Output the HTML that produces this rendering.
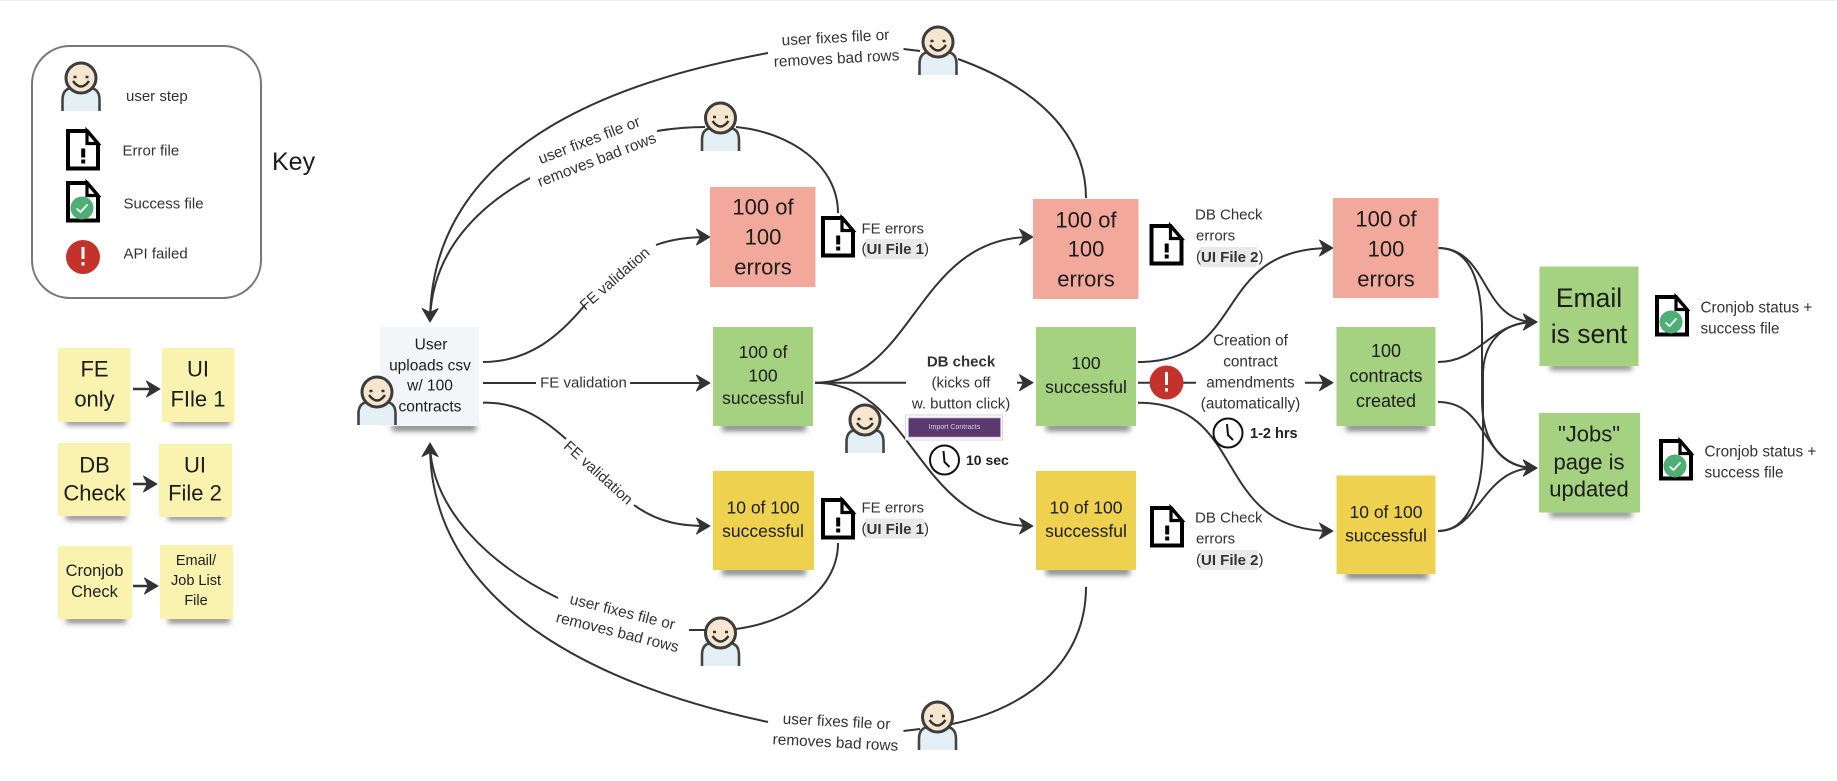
<!DOCTYPE html>
<html>
<head>
<meta charset="utf-8">
<style>
html,body{margin:0;padding:0;background:#fff;width:1837px;height:781px;overflow:hidden}
svg{display:block;filter:blur(.3px)}
text{font-family:"Liberation Sans",sans-serif;fill:#333;font-size:15px;dominant-baseline:central;text-anchor:middle}
.l{text-anchor:start}
.d{fill:#1c1c1c}
.b{font-weight:bold}
.ln{fill:none;stroke:#333;stroke-width:2}
.ar{marker-end:url(#ah)}
.r text{font-size:15.4px}
</style>
</head>
<body>
<svg width="1837" height="781" viewBox="0 0 1837 781" xmlns="http://www.w3.org/2000/svg">
<defs>
<filter id="bl" x="-20%" y="-100%" width="140%" height="300%"><feGaussianBlur stdDeviation="3"/></filter>
<marker id="ah" markerUnits="userSpaceOnUse" markerWidth="18" markerHeight="20" refX="13" refY="10" orient="auto">
<path d="M15,10 L1.500,2 L5.500,10 L1.500,18 Z" fill="#333" stroke="#333" stroke-width="1" stroke-linejoin="round"/>
</marker>
<symbol id="person" overflow="visible" viewBox="-20 -17 40 51" width="40" height="51">
<path d="M-18.5,33 V22 Q-18.5,10 -8,10 H8 Q18.5,10 18.5,22 V33" fill="#e4f0f6" stroke="#444" stroke-width="2.6"/>
<circle cx="0" cy="0" r="15" fill="#f7e6cf" stroke="#3c3c3c" stroke-width="3"/>
<path d="M-8,3 Q0,14 8,3" fill="none" stroke="#333" stroke-width="2.4"/>
<path d="M-7.5,-1 h3 M4.5,-1 h3" stroke="#333" stroke-width="2.4"/>
</symbol>
<symbol id="doc" overflow="visible" viewBox="0 0 34 42" width="34" height="42">
<path d="M2,2 H21 L32,15 V39.500 H2 Z" fill="#fff" stroke="#000" stroke-width="4"/>
<path d="M21,2 V14.500 H32 Z" fill="#fff" stroke="#000" stroke-width="3.200"/>
<rect x="15.200" y="19.500" width="4" height="9" fill="#000"/>
<rect x="15.200" y="30.500" width="4" height="4" fill="#000"/>
</symbol>
<symbol id="sdoc" overflow="visible" viewBox="0 0 34 42" width="34" height="42">
<path d="M2,2 H21 L32,15 V39.500 H2 Z" fill="#fff" stroke="#000" stroke-width="4"/>
<path d="M21,2 V14.500 H32 Z" fill="#fff" stroke="#000" stroke-width="3.200"/>
<circle cx="16" cy="27" r="11.500" fill="#4fae76"/>
<path d="M10.500,27.500 L14.500,31 L21.500,23.500" fill="none" stroke="#fff" stroke-width="1.800"/>
</symbol>
<symbol id="clock" overflow="visible" viewBox="-16 -16 32 32" width="32" height="32">
<circle cx="0" cy="0" r="14.500" fill="#fff" stroke="#111" stroke-width="2"/>
<path d="M-1,-9 L0,2 L5,7" fill="none" stroke="#111" stroke-width="2"/>
</symbol>
</defs>

<rect x="0" y="0" width="1837" height="1" fill="#eee"/>

<!-- shadows -->
<g fill="#333" opacity=".62" filter="url(#bl)">
<rect x="66" y="419" width="60" height="6"/><rect x="172" y="419" width="58" height="6"/>
<rect x="66" y="514" width="60" height="6"/><rect x="168" y="514" width="58" height="6"/>
<rect x="66" y="617" width="60" height="6"/><rect x="168" y="617" width="62" height="6"/>
<rect x="392" y="424" width="84" height="7"/>
<rect x="722" y="424" width="84" height="7"/><rect x="722" y="568" width="84" height="7"/>
<rect x="1046" y="424" width="84" height="7"/><rect x="1046" y="568" width="84" height="7"/>
<rect x="1346" y="424" width="82" height="7"/><rect x="1346" y="572" width="82" height="7"/>
<rect x="1550" y="364" width="82" height="6"/><rect x="1550" y="511" width="82" height="6"/>
</g>

<!-- key -->
<rect x="32" y="46" width="229" height="252" rx="38" ry="38" fill="#fff" stroke="#777" stroke-width="2"/>
<use href="#person" x="61" y="61"/>
<text class="l" x="126" y="96.500">user step</text>
<use href="#doc" x="66" y="129"/>
<text class="l" x="122.500" y="151">Error file</text>
<use href="#sdoc" x="66" y="181"/>
<text class="l" x="123.500" y="204">Success file</text>
<circle cx="83" cy="257" r="17" fill="#c4332b"/>
<rect x="81.500" y="247" width="3" height="12" fill="#fff"/><rect x="81.500" y="262" width="3" height="3.500" fill="#fff"/>
<text class="l" x="123.500" y="254">API failed</text>
<text class="l d" x="272" y="162" style="font-size:25px">Key</text>

<!-- key stickies -->
<g fill="#faf3b0">
<rect x="58" y="348" width="72.500" height="74"/><rect x="162" y="348" width="72.500" height="74"/>
<rect x="58" y="443" width="72.500" height="73"/><rect x="159" y="444" width="73" height="73"/>
<rect x="58" y="546" width="74" height="73"/><rect x="160" y="545" width="73" height="74"/>
</g>
<text class="d" style="font-size:22px" x="94.500" y="369">FE</text>
<text class="d" style="font-size:22px" x="94.500" y="399">only</text>
<text class="d" style="font-size:22px" x="198" y="369">UI</text>
<text class="d" style="font-size:22px" x="198" y="399">FIle 1</text>
<text class="d" style="font-size:22px" x="94.500" y="465">DB</text>
<text class="d" style="font-size:22px" x="94.500" y="493">Check</text>
<text class="d" style="font-size:22px" x="195" y="465">UI</text>
<text class="d" style="font-size:22px" x="195" y="493">File 2</text>
<text class="d" style="font-size:16.500px" x="94.500" y="571">Cronjob</text>
<text class="d" style="font-size:16.500px" x="94.500" y="592">Check</text>
<text class="d" style="font-size:14.500px" x="196" y="561">Email/</text>
<text class="d" style="font-size:14.500px" x="196" y="581">Job List</text>
<text class="d" style="font-size:14.500px" x="196" y="601">File</text>
<g class="ln" style="stroke-width:2.600">
<path class="ar" d="M133,389 H158"/>
<path class="ar" d="M133,484 H155"/>
<path class="ar" d="M133,586 H156"/>
</g>

<!-- main connectors -->
<g class="ln">
<path class="ar" d="M768,53 C 650,75 432,130 430,320"/>
<path d="M530,178 C 480,205 432,250 430,320"/>
<path d="M903.500,49 L920,51"/>
<path d="M958,59 C 1030,85 1086,130 1086,198"/>
<path d="M657,131 C 675,128 690,127 705,127"/>
<path d="M736,127 C 790,132 838,165 838,213"/>

<path class="ar" d="M768,722 C 640,695 430,625 430,445"/>
<path d="M558,598 C 490,565 432,510 430,445"/>
<path d="M689,630 H705"/>
<path d="M736,629 C 790,622 838,590 838,543"/>
<path d="M903.500,731 L920,729"/>
<path d="M952,724 C 1030,708 1086,660 1086,587"/>

<path d="M483,362 C 530,362 560,335 585,305"/>
<path class="ar" d="M656,245 C 672,239 690,237 708,237"/>
<path d="M483,383 H536"/>
<path class="ar" d="M630,383 H708"/>
<path d="M483,402.700 C 520,402 545,420 566,439"/>
<path class="ar" d="M634,505 C 660,524 685,526 708,526"/>

<path class="ar" d="M815,382.700 C 915,382.700 915,237 1031,237"/>
<path d="M815,382.700 H906"/>
<path class="ar" d="M1017,382.700 H1031"/>
<path class="ar" d="M815,382.700 C 915,382.700 915,526 1031,526"/>

<path class="ar" d="M1138,362 C 1250,362 1210,248 1331,248"/>
<path class="ar" d="M1138,402.700 C 1250,402.700 1210,531 1331,531"/>
<path d="M1138,382.700 H1196"/>
<path class="ar" d="M1305,382.700 H1331"/>

<path class="ar" d="M1438,248 C 1490,248 1480,322 1535,322"/>
<path class="ar" d="M1438,248 C 1470,248 1482,280 1482,330 V 400 C 1482,440 1500,468 1535,468"/>
<path class="ar" d="M1438,362 C 1480,362 1490,322 1535,322"/>
<path class="ar" d="M1438,402 C 1490,402 1480,468 1535,468"/>
<path class="ar" d="M1438,531 C 1480,531 1482,468 1535,468"/>
<path class="ar" d="M1438,531 C 1470,531 1483,490 1483,440 V 375 C 1483,345 1500,322 1535,322"/>
</g>

<!-- user box -->
<rect x="380" y="327" width="99" height="99" fill="#f3f5f8"/>
<text class="d" x="431" y="345" style="font-size:15.500px">User</text>
<text class="d" x="430" y="366" style="font-size:15.500px">uploads csv</text>
<text class="d" x="430" y="386" style="font-size:15.500px">w/ 100</text>
<text class="d" x="430" y="407" style="font-size:15.500px">contracts</text>
<use href="#person" x="357" y="375"/>

<!-- stickies column 1 -->
<rect x="710" y="187" width="105.500" height="100" fill="#f2a99c"/>
<rect x="713" y="327" width="100" height="99" fill="#a4d280"/>
<rect x="713" y="471" width="101" height="99" fill="#eed24f"/>
<text class="d" x="763" y="207" style="font-size:22px">100 of</text>
<text class="d" x="763" y="237" style="font-size:22px">100</text>
<text class="d" x="763" y="267" style="font-size:22px">errors</text>
<text class="d" x="763" y="352" style="font-size:17.500px">100 of</text>
<text class="d" x="763" y="375.500" style="font-size:17.500px">100</text>
<text class="d" x="763" y="398" style="font-size:17.500px">successful</text>
<text class="d" x="763" y="507.500" style="font-size:17.500px">10 of 100</text>
<text class="d" x="763" y="531" style="font-size:17.500px">successful</text>

<!-- stickies column 2 -->
<rect x="1033" y="199" width="105.500" height="100" fill="#f2a99c"/>
<rect x="1036" y="327" width="100" height="99" fill="#a4d280"/>
<rect x="1036" y="471" width="100" height="99" fill="#eed24f"/>
<text class="d" x="1086" y="220" style="font-size:22px">100 of</text>
<text class="d" x="1086" y="249" style="font-size:22px">100</text>
<text class="d" x="1086" y="279" style="font-size:22px">errors</text>
<text class="d" x="1086" y="363" style="font-size:17.500px">100</text>
<text class="d" x="1086" y="387" style="font-size:17.500px">successful</text>
<text class="d" x="1086" y="507.500" style="font-size:17.500px">10 of 100</text>
<text class="d" x="1086" y="531" style="font-size:17.500px">successful</text>

<!-- stickies column 3 -->
<rect x="1333" y="198" width="105.500" height="100" fill="#f2a99c"/>
<rect x="1336.500" y="327" width="99" height="99" fill="#a4d280"/>
<rect x="1336.500" y="475.500" width="99" height="98.500" fill="#eed24f"/>
<text class="d" x="1386" y="219" style="font-size:22px">100 of</text>
<text class="d" x="1386" y="249" style="font-size:22px">100</text>
<text class="d" x="1386" y="279" style="font-size:22px">errors</text>
<text class="d" x="1386" y="351" style="font-size:18px">100</text>
<text class="d" x="1386" y="376" style="font-size:18px">contracts</text>
<text class="d" x="1386" y="401" style="font-size:18px">created</text>
<text class="d" x="1386" y="512" style="font-size:17.500px">10 of 100</text>
<text class="d" x="1386" y="535.500" style="font-size:17.500px">successful</text>

<!-- results -->
<rect x="1539.500" y="266.500" width="99" height="99.500" fill="#a4d280"/>
<rect x="1539" y="413" width="101" height="99.500" fill="#a4d280"/>
<text class="d" x="1589" y="298" style="font-size:26.500px">Email</text>
<text class="d" x="1589" y="334" style="font-size:26.500px">is sent</text>
<text class="d" x="1589" y="434" style="font-size:22px">"Jobs"</text>
<text class="d" x="1589" y="462" style="font-size:22px">page is</text>
<text class="d" x="1589" y="489" style="font-size:22px">updated</text>
<use href="#sdoc" x="1655" y="295"/>
<text class="l" x="1700.500" y="308" style="font-size:15.300px">Cronjob status +</text>
<text class="l" x="1700.500" y="329" style="font-size:15.300px">success file</text>
<use href="#sdoc" x="1659" y="439"/>
<text class="l" x="1704.500" y="452" style="font-size:15.300px">Cronjob status +</text>
<text class="l" x="1704.500" y="473" style="font-size:15.300px">success file</text>

<!-- file annotations -->
<use href="#doc" x="821" y="216"/>
<text class="l" x="861.500" y="229">FE errors</text>
<rect x="865" y="239" width="59" height="20" fill="#e9e9e9"/>
<text class="l" x="861.500" y="249">(<tspan class="b">UI File 1</tspan>)</text>
<use href="#doc" x="821" y="498"/>
<text class="l" x="861.500" y="508">FE errors</text>
<rect x="865" y="518.500" width="59" height="20" fill="#e9e9e9"/>
<text class="l" x="861.500" y="529">(<tspan class="b">UI File 1</tspan>)</text>

<use href="#doc" x="1149.500" y="224"/>
<text class="l" x="1195" y="215">DB Check</text>
<text class="l" x="1196" y="236">errors</text>
<rect x="1200" y="247" width="57" height="20" fill="#e9e9e9"/>
<text class="l" x="1196" y="257">(<tspan class="b">UI File 2</tspan>)</text>
<use href="#doc" x="1150" y="506"/>
<text class="l" x="1195" y="518">DB Check</text>
<text class="l" x="1196" y="539">errors</text>
<rect x="1200" y="550" width="57" height="20" fill="#e9e9e9"/>
<text class="l" x="1196" y="560">(<tspan class="b">UI File 2</tspan>)</text>

<!-- DB check label -->
<text class="b" x="961" y="362" style="font-size:15px">DB check</text>
<text x="961" y="383">(kicks off</text>
<text x="961" y="404">w. button click)</text>
<rect x="905.500" y="415" width="97" height="25" fill="#fff" stroke="#d9d4de" stroke-width="1"/>
<rect x="908.500" y="418" width="92" height="19" fill="#5a3a6e" stroke="#b79cd0" stroke-width=".8"/>
<text x="954.500" y="427.500" style="fill:#d9cfe2;font-size:7px">Import Contracts</text>
<use href="#clock" x="928.500" y="444"/>
<text class="l b" x="966" y="460" style="font-size:14px;fill:#222">10 sec</text>

<!-- creation label -->
<text x="1250.500" y="341" style="font-size:15.300px">Creation of</text>
<text x="1250.500" y="362" style="font-size:15.300px">contract</text>
<text x="1250.500" y="383" style="font-size:15.300px">amendments</text>
<text x="1250.500" y="404" style="font-size:15.300px">(automatically)</text>
<circle cx="1166.500" cy="382.500" r="17" fill="#c4332b"/>
<rect x="1165" y="372" width="3" height="13" fill="#fff"/><rect x="1165" y="388" width="3" height="3.500" fill="#fff"/>
<use href="#clock" x="1212" y="417"/>
<text class="l b" x="1250" y="434" style="font-size:14.500px;fill:#222">1-2 hrs</text>

<!-- people -->
<use href="#person" x="918" y="25"/>
<use href="#person" x="700.500" y="101"/>
<use href="#person" x="700.500" y="616"/>
<use href="#person" x="917.500" y="700"/>
<use href="#person" x="845" y="403"/>

<!-- rotated labels -->
<g class="r" transform="rotate(-3 836 48)">
<text x="836" y="38">user fixes file or</text>
<text x="836" y="59">removes bad rows</text>
</g>
<g class="r" transform="rotate(-21 593 150)">
<text x="593" y="140">user fixes file or</text>
<text x="593" y="161">removes bad rows</text>
</g>
<g class="r" transform="rotate(14 620 622)">
<text x="620" y="612">user fixes file or</text>
<text x="620" y="633">removes bad rows</text>
</g>
<g class="r" transform="rotate(3 836 732)">
<text x="836" y="722">user fixes file or</text>
<text x="836" y="743">removes bad rows</text>
</g>
<text x="615" y="279" transform="rotate(-41 615 279)" style="font-size:15px">FE validation</text>
<text x="583.500" y="383" style="font-size:15px">FE validation</text>
<text x="598" y="473" transform="rotate(42 598 473)" style="font-size:15px">FE validation</text>
</svg>
</body>
</html>
